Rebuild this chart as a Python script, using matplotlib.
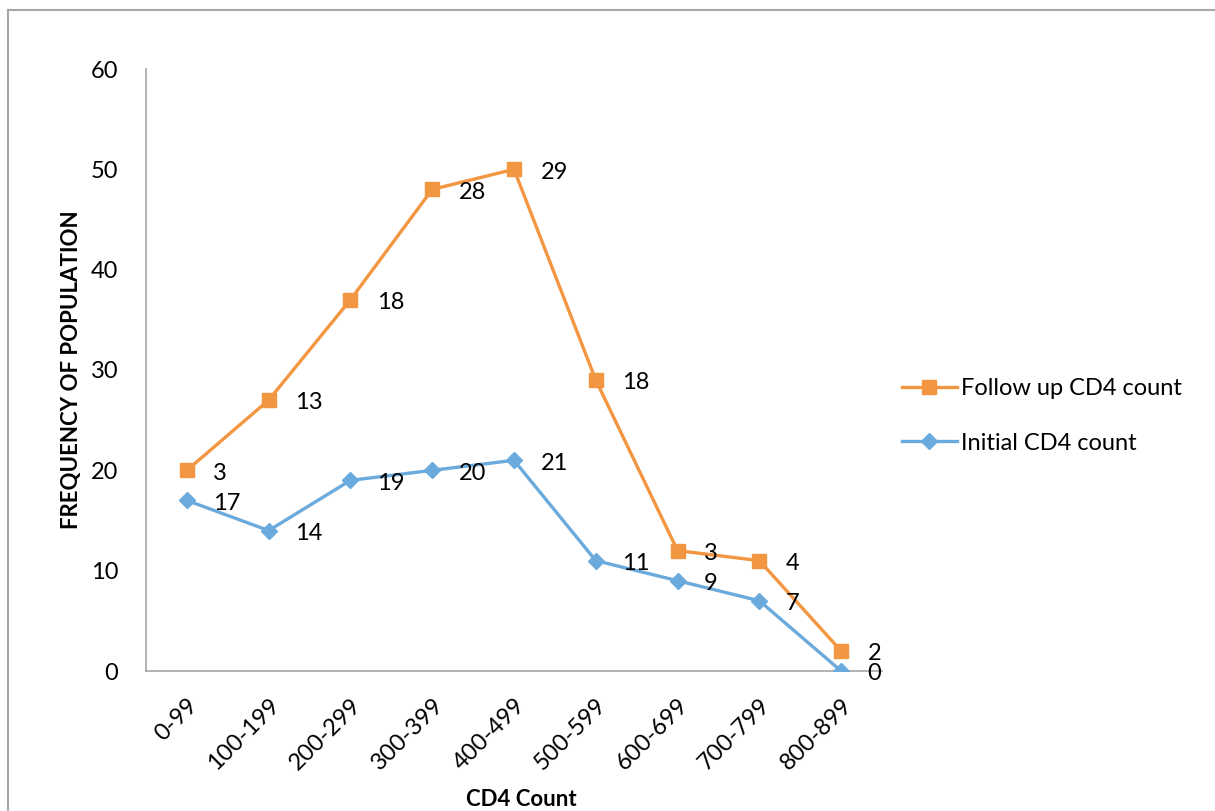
import numpy as np
import matplotlib.pyplot as plt
from matplotlib.lines import Line2D

plt.rcParams['font.family'] = ['Lato', 'DejaVu Sans']

# CD4 count bands and frequencies
categories = ['0-99', '100-199', '200-299', '300-399', '400-499',
              '500-599', '600-699', '700-799', '800-899']
initial = [17, 14, 19, 20, 21, 11, 9, 7, 0]
follow_up = [3, 13, 18, 28, 29, 18, 3, 4, 2]

orange = '#F39641'
blue = '#6AAADC'
fs = 17

x = np.arange(len(categories))
initial_arr = np.array(initial)
stacked = initial_arr + np.array(follow_up)

fig = plt.figure(figsize=(12.15, 8.11), dpi=100)
ax = fig.add_axes([146 / 1215, 1 - 671 / 811, (882 - 146) / 1215, (671 - 69) / 811])

# stacked lines: follow-up drawn on top of initial
ax.plot(x, stacked, color=orange, lw=2.4, marker='s', ms=10.5, zorder=3)
ax.plot(x, initial_arr, color=blue, lw=2.4, marker='D', ms=8.5, zorder=3)

for xi, yi, v in zip(x, stacked, follow_up):
    ax.annotate(str(v), (xi, yi), xytext=(19, -2), textcoords='offset points',
                ha='left', va='center', fontsize=fs)
for xi, yi, v in zip(x, initial_arr, initial):
    ax.annotate(str(v), (xi, yi), xytext=(19, -2), textcoords='offset points',
                ha='left', va='center', fontsize=fs)

ax.set_xlim(-0.5, len(categories) - 0.5)
ax.set_ylim(0, 60)
ax.set_yticks(range(0, 61, 10))
ax.set_xticks(x)
ax.set_xticklabels(categories, rotation=45, ha='right', rotation_mode='anchor')
ax.tick_params(axis='both', length=0, labelsize=fs)
ax.tick_params(axis='y', pad=20)
ax.tick_params(axis='x', pad=17)

for side in ['top', 'right']:
    ax.spines[side].set_visible(False)
for side in ['left', 'bottom']:
    ax.spines[side].set_color('#A6A6A6')
    ax.spines[side].set_linewidth(1.2)

fig.text(521 / 1215, 1 - 800 / 811, 'CD4 Count', fontsize=16, fontweight='bold',
         ha='center', va='center')
fig.text(72 / 1215, 1 - 370 / 811, 'FREQUENCY OF POPULATION', fontsize=16,
         fontweight='bold', rotation=90, ha='center', va='center')

handles = [
    Line2D([], [], color=orange, lw=2.4, marker='s', ms=10.5),
    Line2D([], [], color=blue, lw=2.4, marker='D', ms=8.5),
]
fig.legend(handles, ['Follow up CD4 count', 'Initial CD4 count'],
           loc='center left', bbox_to_anchor=(881 / 1215, 1 - 416 / 811),
           frameon=False, fontsize=fs, handlelength=2.3, handletextpad=0.2,
           labelspacing=1.4)

# outer chart frame
fig.add_artist(Line2D([8 / 1215, 1], [1 - 10 / 811, 1 - 10 / 811],
                      color='#A6A6A6', lw=1.5, transform=fig.transFigure))
fig.add_artist(Line2D([8 / 1215, 8 / 1215], [0, 1 - 10 / 811],
                      color='#A6A6A6', lw=1.5, transform=fig.transFigure))

fig.savefig('out.png', dpi=100)
